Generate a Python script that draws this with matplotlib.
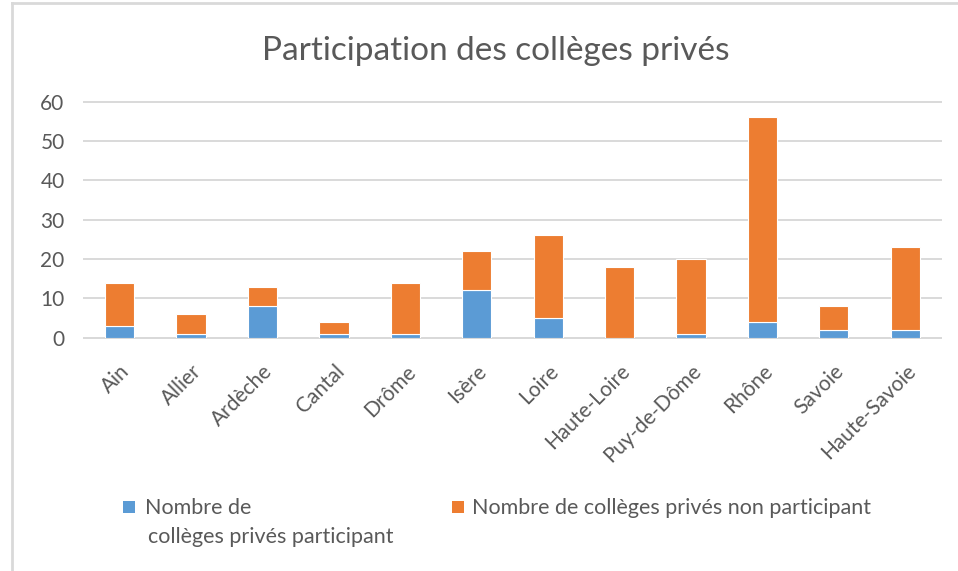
import matplotlib.pyplot as plt
from matplotlib.lines import Line2D
from matplotlib.patches import Rectangle

# Data
departements = ['Ain', 'Allier', 'Ardèche', 'Cantal', 'Drôme', 'Isère', 'Loire',
                'Haute-Loire', 'Puy-de-Dôme', 'Rhône', 'Savoie', 'Haute-Savoie']
participant = [3, 1, 8, 1, 1, 12, 5, 0, 1, 4, 2, 2]
non_participant = [11, 5, 5, 3, 13, 10, 21, 18, 19, 52, 6, 21]
yticks = [0, 10, 20, 30, 40, 50, 60]

blue = '#5B9BD5'
orange = '#ED7D31'
grey_txt = '#595959'
grid_col = '#D9D9D9'

plt.rcParams['font.family'] = ['Lato', 'DejaVu Sans']

W, H = 958, 571
fig = plt.figure(figsize=(W / 100, H / 100), dpi=100)
ax = fig.add_axes([0.0877, 0.4086, 0.8945, 0.4134])

x = list(range(len(departements)))
ax.bar(x, participant, width=0.41, color=blue, edgecolor='white', linewidth=0.8, zorder=3)
ax.bar(x, non_participant, width=0.41, bottom=participant, color=orange,
       edgecolor='white', linewidth=0.8, zorder=3)

ax.set_xlim(-0.5, len(departements) - 0.5)
ax.set_ylim(0, 60)
ax.set_yticks(yticks)
ax.set_xticks(x)
ax.set_xticklabels(departements, rotation=45, ha='right', rotation_mode='anchor')
ax.tick_params(axis='both', length=0, colors=grey_txt)
ax.tick_params(axis='y', pad=14, labelsize=15)
ax.tick_params(axis='x', pad=17, labelsize=15)
ax.grid(axis='y', color=grid_col, linewidth=1.4, zorder=0)
for ln in ax.get_ygridlines():
    ln.set_clip_on(False)
for s in ['top', 'right', 'left']:
    ax.spines[s].set_visible(False)
ax.spines['bottom'].set_color(grid_col)
ax.spines['bottom'].set_linewidth(1.4)

fig.text(0.518, 0.911, 'Participation des collèges privés', ha='center', va='center',
         fontsize=24, color=grey_txt)

# legend drawn by hand so the square lines up with the first text line
def px(xp, yp):
    return xp / W, 1 - yp / H

sq = 12
legend_items = [
    (123, blue, [(145, 514, 'Nombre de'), (148, 543, 'collèges privés participant')]),
    (452, orange, [(472, 514, 'Nombre de collèges privés non participant')]),
]
for x0, col, lines in legend_items:
    fx, fy = px(x0, 513)
    fig.add_artist(Rectangle((fx, fy), sq / W, sq / H, transform=fig.transFigure,
                             color=col, linewidth=0))
    for tx, ty, lab in lines:
        tx_f, ty_f = px(tx, ty)
        fig.text(tx_f, ty_f, lab, ha='left', va='baseline', fontsize=15.5,
                 color=grey_txt)

# outer chart border (left and top edges)
fig.add_artist(Line2D([0.0125, 0.0125], [0, 0.995], color=grid_col, linewidth=2))
fig.add_artist(Line2D([0.0125, 1.0], [0.995, 0.995], color=grid_col, linewidth=2))

fig.savefig('out.png', dpi=100)
